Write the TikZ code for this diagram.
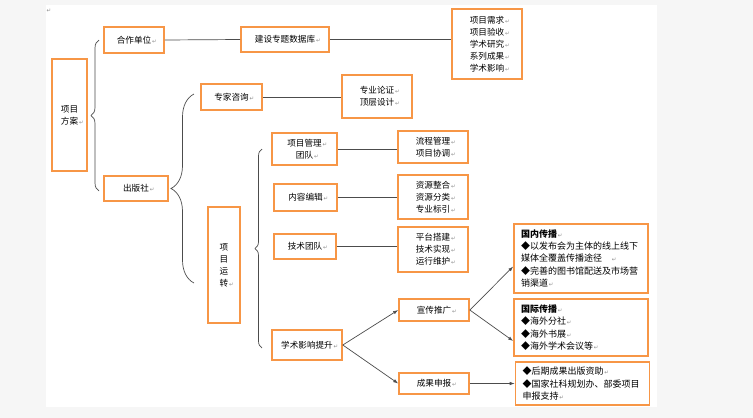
\documentclass[tikz,border=0pt]{standalone}
\usepackage{fontspec}
\usepackage{tikz}
\usepackage{xcolor}
\usetikzlibrary{arrows.meta, positioning, calc, decorations.pathreplacing}
\newfontfamily\cjk{Noto Sans CJK SC}
\newfontfamily\dejavu{DejaVu Sans}
\definecolor{boxorange}{HTML}{F79646}
\definecolor{pagegray}{HTML}{F6F6F6}
\newcommand{\pmark}{\rlap{\dejavu\fontsize{5.5}{5.5}\selectfont\color{black!45}\,↵}}

\begin{document}
\begin{tikzpicture}[
x=1pt, y=-1pt,
block/.style={draw=boxorange, line width=1.6pt, align=center, inner sep=2pt, font=\cjk\fontsize{8.6}{12}\selectfont},
note/.style={block, align=left, text width=120pt, inner xsep=7pt, font=\cjk\fontsize{9}{12.3}\selectfont},
link/.style={draw=black!70, line width=0.7pt},
arrow/.style={link, -{Latex[length=5pt,width=3.5pt]}},
curly/.style={draw=black!70, line width=0.7pt, decorate, decoration={brace, amplitude=#1}}
]
\fill[pagegray] (0,0) rectangle (753,418);
\fill[white] (46,5) rectangle (657,407);
\useasboundingbox (0,0) rectangle (753,418);
\node[inner sep=0, anchor=west] (topmark) at (45,11) {\pmark};

\node[block, minimum width=35pt, minimum height=112pt] (fangan) at (69.5,115) {项目\\方案\pmark};
\node[block, minimum width=60pt, minimum height=26pt] (hezuo) at (134,40) {合作单位\pmark};
\node[block, minimum width=64pt, minimum height=25pt] (chuban) at (136,188.5) {出版社\pmark};
\node[block, minimum width=88pt, minimum height=25pt] (jianshe) at (285,39.5) {建设专题数据库\pmark};
\node[block, minimum width=70pt, minimum height=70pt] (xuqiu) at (487,44) {项目需求\pmark\\项目验收\pmark\\学术研究\pmark\\系列成果\pmark\\学术影响\pmark};
\node[block, minimum width=61pt, minimum height=26pt] (zhuanjia) at (231.5,97) {专家咨询\pmark};
\node[block, minimum width=70pt, minimum height=43pt] (lunzheng) at (377,96.5) {专业论证\pmark\\顶层设计\pmark};
\node[block, minimum width=32pt, minimum height=116pt] (yunzhuan) at (224,265) {项\\目\\运\\转\pmark};
\node[block, minimum width=65pt, minimum height=32pt] (guanli) at (304.5,149) {项目管理\pmark\\团队\pmark};
\node[block, minimum width=70pt, minimum height=32pt] (liucheng) at (433,147) {流程管理\pmark\\项目协调\pmark};
\node[block, minimum width=63pt, minimum height=27pt] (neirong) at (305.5,197.5) {内容编辑\pmark};
\node[block, minimum width=70pt, minimum height=44pt] (ziyuan) at (433,197) {资源整合\pmark\\资源分类\pmark\\专业标引\pmark};
\node[block, minimum width=62pt, minimum height=25pt] (jishu) at (305,246.5) {技术团队\pmark};
\node[block, minimum width=70pt, minimum height=45pt] (pingtai) at (433,249.5) {平台搭建\pmark\\技术实现\pmark\\运行维护\pmark};
\node[block, minimum width=70pt, minimum height=30pt] (tisheng) at (307,345) {学术影响提升\pmark};
\node[block, minimum width=70pt, minimum height=22pt] (xuanchuan) at (434,310) {宣传推广\pmark};
\node[block, minimum width=70pt, minimum height=21pt] (shenbao) at (434,383.5) {成果申报\pmark};
\node[note, minimum height=69pt] (guonei) at (581,258.5) {\textbf{国内传播}\pmark\\◆以发布会为主体的线上线下\\媒体全覆盖传播途径\quad\pmark\\◆完善的图书馆配送及市场营\\销渠道\pmark};
\node[note, minimum height=57pt] (guoji) at (581,327.5) {\textbf{国际传播}\pmark\\◆海外分社\pmark\\◆海外书展\pmark\\◆海外学术会议等\pmark};
\node[note, minimum height=43pt] (houqi) at (582.5,383.5) {◆后期成果出版资助\pmark\\◆国家社科规划办、部委项目\\申报支持\pmark};

\draw[curly=8pt] (99,191) -- (99,40);
\draw[curly=23pt] (194,283) -- (194,94);
\draw[curly=7pt] (262,348) -- (262,149);

\draw[link] (hezuo.east) -- (jianshe.west);
\draw[link] (jianshe.east) -- (jianshe.east -| xuqiu.west);
\draw[link] (zhuanjia.east) -- (zhuanjia.east -| lunzheng.west);
\draw[link] (guanli.east) -- (guanli.east -| liucheng.west);
\draw[link] (neirong.east) -- (neirong.east -| ziyuan.west);
\draw[link] (jishu.east) -- (jishu.east -| pingtai.west);
\draw[arrow] (tisheng.east) -- (xuanchuan.west);
\draw[arrow] (tisheng.east) -- (shenbao.west);
\draw[arrow] (xuanchuan.east) -- ([yshift=-8pt]guonei.west);
\draw[arrow] (xuanchuan.east) -- ([yshift=-13.5pt]guoji.west);
\draw[arrow] (shenbao.east) -- (shenbao.east -| houqi.west);
\end{tikzpicture}
\end{document}
